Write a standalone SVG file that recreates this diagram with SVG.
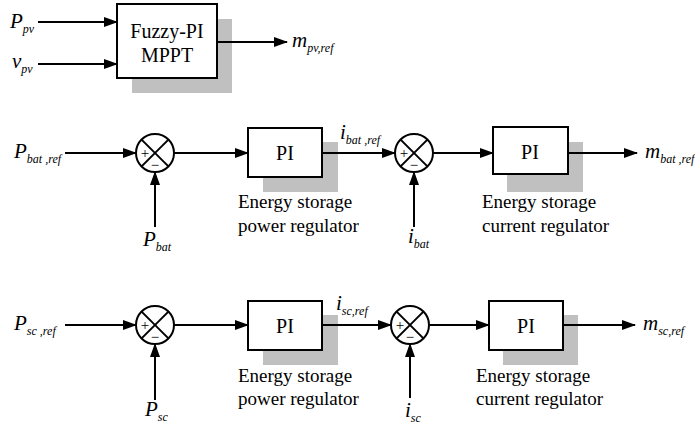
<svg xmlns="http://www.w3.org/2000/svg" width="695" height="432" viewBox="0 0 695 432">
<defs>
<marker id="ar" markerUnits="userSpaceOnUse" markerWidth="14" markerHeight="10" refX="13" refY="5" orient="auto"><path d="M0,0 L14,5 L0,10 z" fill="#000"/></marker>
</defs>
<style>
.box{fill:#fff;stroke:#000;stroke-width:2}
.sh{fill:#c0c0c0}
.sum{fill:#fff;stroke:#000;stroke-width:2}
.x{stroke:#000;stroke-width:2}
.ln{stroke:#000;stroke-width:2;fill:none;marker-end:url(#ar)}
</style>
<g id="mppt">
<rect class="sh" x="132" y="19" width="100" height="74"/>
<rect class="box" x="117" y="4" width="100" height="74"/>
<text style="font-family:'Liberation Serif',serif;font-size:20px" x="167" y="38" text-anchor="middle">Fuzzy-PI</text>
<text style="font-family:'Liberation Serif',serif;font-size:20px" x="167" y="62" text-anchor="middle">MPPT</text>
</g>
<g id="pi1">
<rect class="sh" x="263" y="142" width="75" height="50"/>
<rect class="box" x="248" y="128" width="74" height="49"/>
<text style="font-family:'Liberation Serif',serif;font-size:20px" x="285" y="160" text-anchor="middle">PI</text>
<text style="font-family:'Liberation Serif',serif;font-size:19px" x="238" y="208">Energy storage</text>
<text style="font-family:'Liberation Serif',serif;font-size:19px" x="238" y="232">power regulator</text>
</g>
<g id="pi2">
<rect class="sh" x="507" y="142" width="76" height="50"/>
<rect class="box" x="493" y="127" width="75" height="47"/>
<text style="font-family:'Liberation Serif',serif;font-size:20px" x="530" y="159" text-anchor="middle">PI</text>
<text style="font-family:'Liberation Serif',serif;font-size:19px" x="482" y="208">Energy storage</text>
<text style="font-family:'Liberation Serif',serif;font-size:19px" x="482" y="232">current regulator</text>
</g>
<g id="pi3">
<rect class="sh" x="263" y="315" width="75" height="50"/>
<rect class="box" x="248" y="301" width="74" height="49"/>
<text style="font-family:'Liberation Serif',serif;font-size:20px" x="285" y="333" text-anchor="middle">PI</text>
<text style="font-family:'Liberation Serif',serif;font-size:19px" x="238" y="382">Energy storage</text>
<text style="font-family:'Liberation Serif',serif;font-size:19px" x="238" y="405">power regulator</text>
</g>
<g id="pi4">
<rect class="sh" x="503" y="315" width="75" height="50"/>
<rect class="box" x="489" y="301" width="74" height="49"/>
<text style="font-family:'Liberation Serif',serif;font-size:20px" x="526" y="333" text-anchor="middle">PI</text>
<text style="font-family:'Liberation Serif',serif;font-size:19px" x="476" y="382">Energy storage</text>
<text style="font-family:'Liberation Serif',serif;font-size:19px" x="476" y="405">current regulator</text>
</g>
<g id="sum1">
<circle class="sum" cx="155" cy="153" r="19"/>
<line class="x" x1="141.6" y1="139.6" x2="168.4" y2="166.4"/>
<line class="x" x1="168.4" y1="139.6" x2="141.6" y2="166.4"/>
<text style="font-family:'Liberation Serif',serif;font-size:15px" x="145" y="158" text-anchor="middle">+</text>
<text style="font-family:'Liberation Serif',serif;font-size:15px" x="155" y="170" text-anchor="middle">−</text>
</g>
<g id="sum2">
<circle class="sum" cx="414" cy="153" r="19"/>
<line class="x" x1="400.6" y1="139.6" x2="427.4" y2="166.4"/>
<line class="x" x1="427.4" y1="139.6" x2="400.6" y2="166.4"/>
<text style="font-family:'Liberation Serif',serif;font-size:15px" x="404" y="158" text-anchor="middle">+</text>
<text style="font-family:'Liberation Serif',serif;font-size:15px" x="414" y="170" text-anchor="middle">−</text>
</g>
<g id="sum3">
<circle class="sum" cx="155" cy="325" r="19"/>
<line class="x" x1="141.6" y1="311.6" x2="168.4" y2="338.4"/>
<line class="x" x1="168.4" y1="311.6" x2="141.6" y2="338.4"/>
<text style="font-family:'Liberation Serif',serif;font-size:15px" x="145" y="330" text-anchor="middle">+</text>
<text style="font-family:'Liberation Serif',serif;font-size:15px" x="155" y="342" text-anchor="middle">−</text>
</g>
<g id="sum4">
<circle class="sum" cx="410" cy="325" r="19"/>
<line class="x" x1="396.6" y1="311.6" x2="423.4" y2="338.4"/>
<line class="x" x1="423.4" y1="311.6" x2="396.6" y2="338.4"/>
<text style="font-family:'Liberation Serif',serif;font-size:15px" x="400" y="330" text-anchor="middle">+</text>
<text style="font-family:'Liberation Serif',serif;font-size:15px" x="410" y="342" text-anchor="middle">−</text>
</g>
<g id="connectors">
<line class="ln" x1="38" y1="22" x2="117" y2="22"/>
<line class="ln" x1="38" y1="64" x2="117" y2="64"/>
<line class="ln" x1="217" y1="42" x2="287" y2="42"/>
<line class="ln" x1="65" y1="153" x2="136" y2="153"/>
<line class="ln" x1="174" y1="153" x2="248" y2="153"/>
<line class="ln" x1="155" y1="227" x2="155" y2="172"/>
<line class="ln" x1="322" y1="153" x2="395" y2="153"/>
<line class="ln" x1="433" y1="153" x2="493" y2="153"/>
<line class="ln" x1="414" y1="227" x2="414" y2="172"/>
<line class="ln" x1="568" y1="153" x2="637" y2="153"/>
<line class="ln" x1="65" y1="325" x2="136" y2="325"/>
<line class="ln" x1="174" y1="325" x2="248" y2="325"/>
<line class="ln" x1="155" y1="400" x2="155" y2="344"/>
<line class="ln" x1="322" y1="325" x2="391" y2="325"/>
<line class="ln" x1="429" y1="325" x2="489" y2="325"/>
<line class="ln" x1="410" y1="398" x2="410" y2="344"/>
<line class="ln" x1="563" y1="325" x2="635" y2="325"/>
</g>
<g id="labels">
<text style="font-family:'Liberation Serif',serif;font-style:italic;font-size:21px" x="10" y="28">P<tspan font-size="12" dy="5">pv</tspan></text>
<text style="font-family:'Liberation Serif',serif;font-style:italic;font-size:21px" x="12" y="68">v<tspan font-size="12" dy="5">pv</tspan></text>
<text style="font-family:'Liberation Serif',serif;font-style:italic;font-size:21px" x="292" y="47">m<tspan font-size="12" dy="5">pv,ref</tspan></text>
<text style="font-family:'Liberation Serif',serif;font-style:italic;font-size:21px" x="14" y="158">P<tspan font-size="12" dy="5">bat ,ref</tspan></text>
<text style="font-family:'Liberation Serif',serif;font-style:italic;font-size:21px" x="143" y="246">P<tspan font-size="12" dy="5">bat</tspan></text>
<text style="font-family:'Liberation Serif',serif;font-style:italic;font-size:21px" x="340" y="139">i<tspan font-size="12" dy="5">bat ,ref</tspan></text>
<text style="font-family:'Liberation Serif',serif;font-style:italic;font-size:21px" x="408" y="243">i<tspan font-size="12" dy="5">bat</tspan></text>
<text style="font-family:'Liberation Serif',serif;font-style:italic;font-size:21px" x="645" y="158">m<tspan font-size="12" dy="5">bat ,ref</tspan></text>
<text style="font-family:'Liberation Serif',serif;font-style:italic;font-size:21px" x="14" y="330">P<tspan font-size="12" dy="5">sc ,ref</tspan></text>
<text style="font-family:'Liberation Serif',serif;font-style:italic;font-size:21px" x="145" y="416">P<tspan font-size="12" dy="5">sc</tspan></text>
<text style="font-family:'Liberation Serif',serif;font-style:italic;font-size:21px" x="336" y="310">i<tspan font-size="12" dy="5">sc,ref</tspan></text>
<text style="font-family:'Liberation Serif',serif;font-style:italic;font-size:21px" x="405" y="417">i<tspan font-size="12" dy="5">sc</tspan></text>
<text style="font-family:'Liberation Serif',serif;font-style:italic;font-size:21px" x="643" y="330">m<tspan font-size="12" dy="5">sc,ref</tspan></text>
</g>
</svg>
